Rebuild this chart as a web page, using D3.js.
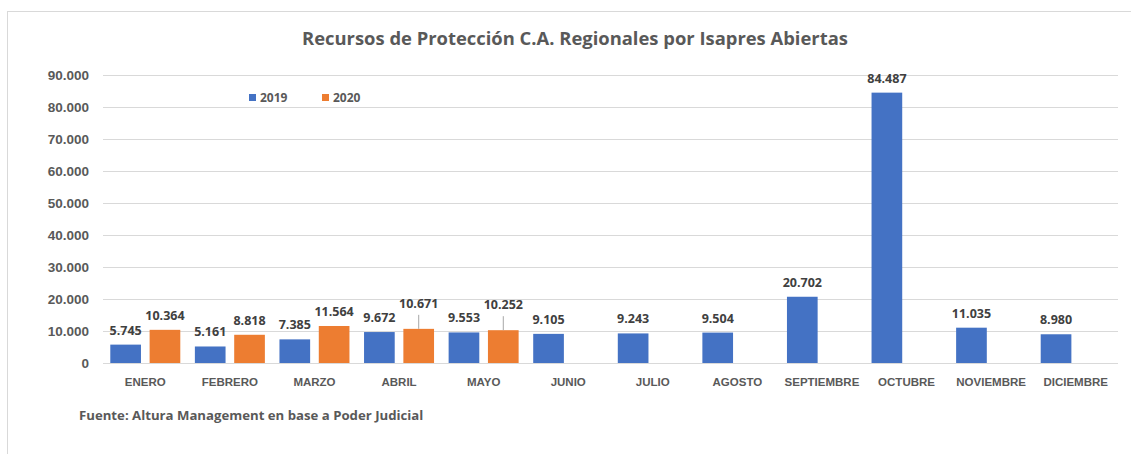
<!DOCTYPE html>
<html>
<head>
<meta charset="utf-8">
<script src="https://cdn.jsdelivr.net/npm/d3@7"></script>
<style>
  body { margin: 0; background: #fff; }
  svg { display: block; font-family: "Open Sans", Lato, sans-serif; }
</style>
</head>
<body>
<svg id="chart"></svg>
<script>
// Data
const months = ["ENERO", "FEBRERO", "MARZO", "ABRIL", "MAYO", "JUNIO", "JULIO",
                "AGOSTO", "SEPTIEMBRE", "OCTUBRE", "NOVIEMBRE", "DICIEMBRE"];
const years = ["2019", "2020"];
const values2019 = [5745, 5161, 7385, 9672, 9553, 9105, 9243, 9504, 20702, 84487, 11035, 8980];
const values2020 = [10364, 8818, 11564, 10671, 10252, null, null, null, null, null, null, null];
const yTicks = [0, 10000, 20000, 30000, 40000, 50000, 60000, 70000, 80000, 90000];

const title = "Recursos de Protección C.A. Regionales por Isapres Abiertas";
const source = "Fuente: Altura Management en base a Poder Judicial";

const width = 1131, height = 454;
const colors = { "2019": "#4472C4", "2020": "#ED7D31" };
const margin = { left: 103, right: 13, top: 75, bottom: 91 };  // plot = 103..1118, 75..363

const svg = d3.select("#chart")
    .attr("width", width)
    .attr("height", height);

// outer chart frame (runs off the right and bottom of the picture)
svg.append("rect")
    .attr("x", 7.5).attr("y", 11.5)
    .attr("width", width).attr("height", height)
    .attr("fill", "none")
    .attr("stroke", "#d9d9d9");

const x0 = d3.scaleBand()
    .domain(months)
    .range([margin.left, width - margin.right]);

const x1 = d3.scaleBand()
    .domain(years)
    .range([0, 70])
    .paddingInner(0.22);

const y = d3.scaleLinear()
    .domain([0, 90000])
    .range([height - margin.bottom, margin.top]);

const fmt = d3.formatLocale({ decimal: ",", thousands: ".", grouping: [3], currency: ["", ""] }).format(",d");

// gridlines + y labels
const yAxis = d3.axisLeft(y)
    .tickValues(yTicks)
    .tickSize(-(width - margin.right - margin.left))
    .tickPadding(14)
    .tickFormat(fmt);

svg.append("g")
    .attr("transform", `translate(${margin.left},0)`)
    .call(yAxis)
    .call(g => g.select(".domain").remove())
    .call(g => g.selectAll(".tick line").attr("stroke", "#d9d9d9").attr("stroke-width", 1))
    .call(g => g.selectAll(".tick text")
        .attr("fill", "#595959")
        .attr("font-size", "13.5px")
        .attr("font-weight", "bold"));

// category labels
const xAxis = d3.axisBottom(x0).tickSize(0).tickPadding(15);
svg.append("g")
    .attr("transform", `translate(0,${y(0)})`)
    .call(xAxis)
    .call(g => g.select(".domain").remove())
    .call(g => g.selectAll(".tick text")
        .attr("fill", "#595959")
        .attr("font-size", "11.5px")
        .attr("font-weight", "bold"));

// bars
const rows = months.map((m, i) => ({ month: m, "2019": values2019[i], "2020": values2020[i] }));
const groupOffset = (x0.bandwidth() - 70) / 2;

const groups = svg.append("g").selectAll("g")
    .data(rows)
    .join("g")
    .attr("transform", d => `translate(${x0(d.month) + groupOffset},0)`);

const cells = groups.selectAll("g")
    .data(d => years.filter(yr => d[yr] != null).map(yr => ({ year: yr, value: d[yr], month: d.month })))
    .join("g");

cells.append("rect")
    .attr("x", d => x1(d.year))
    .attr("y", d => y(d.value))
    .attr("width", x1.bandwidth())
    .attr("height", d => y(0) - y(d.value))
    .attr("fill", d => colors[d.year]);

// labels pushed up with a leader line where Excel moved them
const lifted = ["ABRIL", "MAYO"];
cells.each(function (d) {
    const g = d3.select(this);
    const cx = x1(d.year) + x1.bandwidth() / 2;
    const top = y(d.value);
    const lift = (d.year === "2020" && lifted.includes(d.month)) ? 11 : 0;
    if (lift) {
        g.append("line")
            .attr("x1", cx).attr("x2", cx)
            .attr("y1", top - lift - 3).attr("y2", top)
            .attr("stroke", "#a6a6a6");
    }
    g.append("text")
        .attr("x", cx)
        .attr("y", top - 10 - lift)
        .attr("text-anchor", "middle")
        .attr("font-size", "12.5px")
        .attr("font-weight", "bold")
        .attr("fill", "#404040")
        .text(fmt(d.value));
});

// title
svg.append("text")
    .attr("x", 575)
    .attr("y", 45)
    .attr("text-anchor", "middle")
    .attr("font-size", "18.4px")
    .attr("font-weight", "bold")
    .attr("fill", "#595959")
    .text(title);

// legend
const legend = svg.append("g").attr("transform", "translate(249,0)");
years.forEach((yr, i) => {
    const lg = legend.append("g").attr("transform", `translate(${i * 73},0)`);
    lg.append("rect")
        .attr("x", 0).attr("y", 94)
        .attr("width", 7).attr("height", 7)
        .attr("fill", colors[yr]);
    lg.append("text")
        .attr("x", 11).attr("y", 102)
        .attr("font-size", "12px")
        .attr("font-weight", "bold")
        .attr("fill", "#595959")
        .text(yr);
});

// source note
svg.append("text")
    .attr("x", 79)
    .attr("y", 420)
    .attr("font-size", "13.2px")
    .attr("font-weight", "bold")
    .attr("fill", "#595959")
    .text(source);
</script>
</body>
</html>
